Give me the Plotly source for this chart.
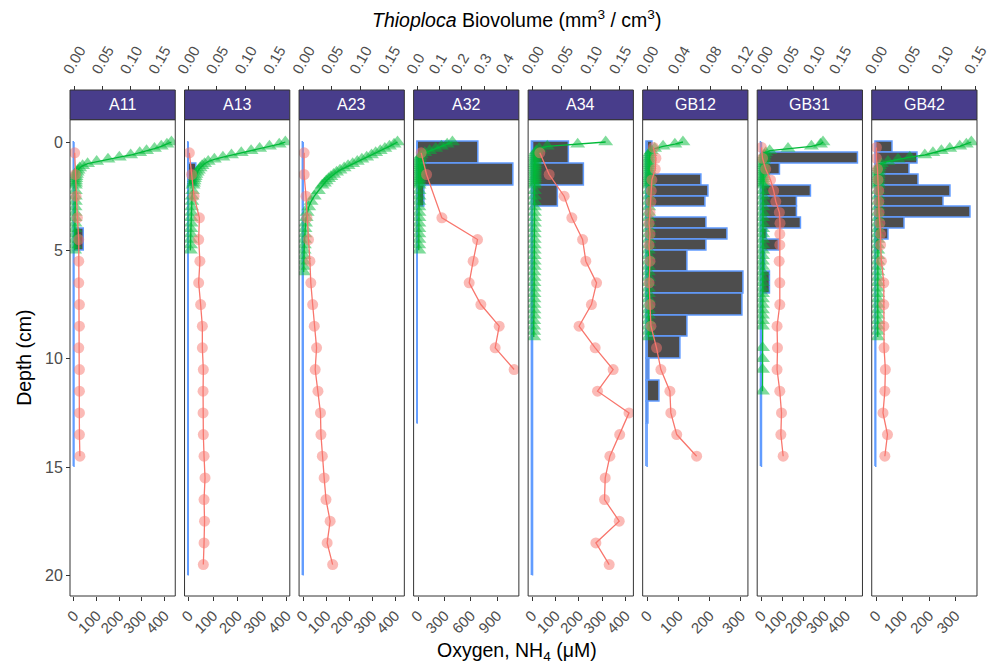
import plotly.graph_objects as go

# ---------------- data ----------------
panels = ["A11", "A13", "A23", "A32", "A34", "GB12", "GB31", "GB42"]

# oxygen depth grids (cm)
depth_fine = [0.0, 0.1, 0.2, 0.3, 0.4, 0.5, 0.6, 0.7, 0.8, 0.9, 1.0,
              1.1, 1.2, 1.3, 1.4, 1.5, 1.6, 1.7, 1.8, 1.9, 2.0]
depth_to5 = [2.25, 2.5, 2.75, 3.0, 3.25, 3.5, 3.75, 4.0, 4.25, 4.5, 4.75, 5.0]
depth_to6 = [2.25, 2.5, 2.75, 3.0, 3.25, 3.5, 3.75, 4.0, 4.25, 4.5, 4.75, 5.0,
             5.25, 5.5, 5.75, 6.0]
depth_to9 = [2.25, 2.5, 2.75, 3.0, 3.25, 3.5, 3.75, 4.0, 4.25, 4.5, 4.75, 5.0,
             5.25, 5.5, 5.75, 6.0, 6.25, 6.5, 6.75, 7.0, 7.25, 7.5, 7.75, 8.0,
             8.25, 8.5, 8.75, 9.0]
depth_gb31 = [2.25, 2.5, 2.75, 3.0, 3.25, 3.5, 3.75, 4.0, 4.25, 4.5, 4.75, 5.0,
              5.25, 5.5, 5.75, 6.0, 6.25, 6.5, 6.75, 7.0, 7.25, 7.5, 7.75, 8.0,
              8.25, 8.5, 9.5, 10.0, 10.5, 11.5]

# oxygen values (uM)
o2_A11 = [430, 410, 385, 355, 320, 290, 250, 200, 150, 100, 60, 38, 25, 18, 14, 11, 9, 8, 7, 7, 6,
          6, 6, 6, 5, 5, 5, 5, 4, 4, 4, 4, 3]
o2_A13 = [395, 370, 330, 290, 255, 215, 175, 140, 105, 80, 65, 55, 47, 40, 35, 30, 27, 24, 22, 20, 18,
          16, 14, 13, 12, 11, 10, 10, 9, 9, 8, 8, 7]
o2_A23 = [410, 395, 375, 355, 335, 315, 297, 276, 255, 235, 215, 195, 178, 160, 145, 132, 120, 110, 100, 92, 82,
          66, 48, 34, 24, 17, 13, 10, 8, 7, 6, 5, 4, 3, 3, 2, 2]
o2_A32 = [390, 330, 265, 200, 130, 75, 35, 20, 15, 13, 12, 12, 12, 11, 11, 11, 11, 10, 10, 10, 10,
          10, 10, 9, 9, 9, 9, 8, 8, 8, 8, 7, 7]
o2_A34 = [315, 195, 65, 30, 18, 14, 13, 12, 12, 12, 11, 11, 11, 11, 11, 11, 11, 10, 10, 10, 10,
          10, 10, 10, 10, 10, 10, 10, 9, 9, 9, 9, 9, 9, 9, 9, 8, 8, 8, 8, 8, 8, 8, 8, 8, 7, 7, 7, 7]
o2_GB12 = [114, 88, 50, 23, 12, 8, 6, 6, 5, 5, 5, 5, 5, 5, 5, 5, 4, 4, 4, 4, 4,
           4, 4, 4, 4, 4, 4, 4, 4, 4, 4, 4, 3, 3, 3, 3, 3, 3, 3, 3, 3, 3, 3, 3, 3, 3, 3, 3, 3]
o2_GB31 = [292, 280, 237, 126, 39, 20, 14, 11, 10, 9, 9, 8, 8, 8, 8, 8, 8, 7, 7, 7, 7,
           7, 7, 7, 7, 6, 6, 6, 6, 6, 6, 6, 6, 5, 5, 5, 5, 5, 5, 5, 5, 5, 5, 5, 5, 5, 5, 5, 5, 5, 5]
o2_GB42 = [361, 342, 317, 279, 247, 215, 184, 127, 82, 44, 19, 12, 9, 8, 7, 7, 6, 6, 6, 6, 6,
           6, 6, 6, 6, 6, 6, 5, 5, 5, 5, 5, 5, 5, 5, 5, 5, 5, 5, 5, 5, 5, 5, 5, 5, 5, 5, 5, 5]

# NH4 depth grids (cm)
nh4_depth_15 = [0.5, 1.5, 2.5, 3.5, 4.5, 5.5, 6.5, 7.5, 8.5, 9.5, 10.5, 11.5, 12.5, 13.5, 14.5]
nh4_depth_20 = [0.5, 1.5, 2.5, 3.5, 4.5, 5.5, 6.5, 7.5, 8.5, 9.5, 10.5, 11.5, 12.5, 13.5, 14.5,
                15.5, 16.5, 17.5, 18.5, 19.5]
nh4_depth_A32 = [0.5, 1.5, 3.5, 4.5, 5.5, 6.5, 7.5, 8.5, 9.5, 10.5]
nh4_depth_GB = [0.25, 0.75, 1.25, 1.75, 2.25, 2.75, 3.25, 3.75, 4.25, 4.75,
                5.5, 6.5, 7.5, 8.5, 9.5, 10.5, 11.5, 12.5, 13.5, 14.5]

# NH4 values (uM)
nh4_A11 = [3, 6, 9, 15, 21, 21, 21, 24, 24, 21, 24, 24, 24, 24, 26]
nh4_A13 = [3, 12, 22, 44, 41, 46, 41, 49, 56, 56, 60, 59, 59, 60, 63, 67, 63, 65, 63, 60]
nh4_A23 = [4, 4, 12, 16, 23, 29, 33, 41, 48, 58, 52, 64, 75, 77, 83, 91, 99, 117, 104, 128]
nh4_A32 = [34, 95, 270, 676, 626, 581, 714, 923, 877, 1093]
nh4_A34 = [33, 73, 137, 170, 216, 230, 276, 254, 201, 270, 347, 280, 415, 375, 333, 313, 310, 373, 273, 330]
nh4_GB12 = [19, 27, 25, 14, 12, 11, 8, 5, 8, 5, 8, 5, 8, 11, 29, 43, 72, 75, 94, 158]
nh4_GB31 = [0, 5, 20, 43, 58, 68, 85, 88, 87, 87, 84, 87, 87, 74, 76, 74, 87, 95, 92, 103]
nh4_GB42 = [0, 0, 4, 6, 9, 9, 10, 13, 16, 16, 19, 28, 28, 28, 29, 34, 32, 25, 42, 32]

# Thioploca biovolume layers: edges (cm) and values (mm3/cm3)
edges_15 = [0, 1, 2, 3, 4, 5, 6, 7, 8, 9, 10, 11, 12, 13, 14, 15]
edges_20 = [0, 1, 2, 3, 4, 5, 6, 7, 8, 9, 10, 11, 12, 13, 14, 15, 16, 17, 18, 19, 20]
edges_13 = [0, 1, 2, 3, 4, 5, 6, 7, 8, 9, 10, 11, 12, 13]
edges_GB = [0, 0.5, 1, 1.5, 2, 2.5, 3, 3.5, 4, 4.5, 5, 6, 7, 8, 9, 10, 11, 12, 13, 14, 15]

bio_A11 = [0, 0, 0, 0, 0.0176, 0, 0, 0, 0, 0, 0, 0, 0, 0, 0]
bio_A13 = [0, 0.0145, 0, 0, 0, 0, 0, 0, 0, 0, 0, 0, 0, 0, 0, 0, 0, 0, 0, 0]
bio_A23 = [0, 0, 0, 0, 0, 0, 0, 0, 0, 0, 0, 0, 0, 0, 0, 0, 0, 0, 0, 0]
bio_A32 = [0.277, 0.43, 0.031, 0, 0, 0, 0, 0, 0, 0, 0, 0, 0]
bio_A34 = [0.062, 0.089, 0.044, 0, 0, 0, 0, 0, 0, 0, 0, 0, 0, 0, 0, 0, 0, 0, 0, 0]
bio_GB12 = [0.007, 0, 0, 0.0695, 0.0788, 0.0746, 0, 0.0754, 0.102, 0.0758,
            0.052, 0.1233, 0.121, 0.051, 0.043, 0.003, 0.016, 0.0025, 0, 0]
bio_GB31 = [0, 0.185, 0.036, 0, 0.096, 0.068, 0.069, 0.077, 0.011, 0.033,
            0.008, 0.017, 0, 0, 0, 0, 0, 0, 0, 0]
bio_GB42 = [0.026, 0.063, 0.051, 0.065, 0.113, 0.102, 0.143, 0.044, 0.020, 0.006,
            0, 0, 0, 0, 0, 0, 0, 0, 0, 0]

# axis tick labels
ticks_conc_400 = [0, 100, 200, 300, 400]
ticks_conc_300 = [0, 100, 200, 300]
ticks_conc_A32 = [0, 300, 600, 900]
ticks_bio_15 = [0, 0.05, 0.10, 0.15]
ticks_bio_A32 = [0, 0.1, 0.2, 0.3, 0.4]
ticks_bio_GB12 = [0, 0.04, 0.08, 0.12]
ticks_depth = [0, 5, 10, 15, 20]

# ---------------- assembly ----------------
data = {
    "A11": (depth_fine + depth_to5, o2_A11, nh4_depth_15, nh4_A11, edges_15, bio_A11),
    "A13": (depth_fine + depth_to5, o2_A13, nh4_depth_20, nh4_A13, edges_20, bio_A13),
    "A23": (depth_fine + depth_to6, o2_A23, nh4_depth_20, nh4_A23, edges_20, bio_A23),
    "A32": (depth_fine + depth_to5, o2_A32, nh4_depth_A32, nh4_A32, edges_13, bio_A32),
    "A34": (depth_fine + depth_to9, o2_A34, nh4_depth_20, nh4_A34, edges_20, bio_A34),
    "GB12": (depth_fine + depth_to9, o2_GB12, nh4_depth_GB, nh4_GB12, edges_GB, bio_GB12),
    "GB31": (depth_fine + depth_gb31, o2_GB31, nh4_depth_GB, nh4_GB31, edges_GB, bio_GB31),
    "GB42": (depth_fine + depth_to9, o2_GB42, nh4_depth_GB, nh4_GB42, edges_GB, bio_GB42),
}
conc_ticks = {"A11": ticks_conc_400, "A13": ticks_conc_400, "A23": ticks_conc_400,
              "A32": ticks_conc_A32, "A34": ticks_conc_400, "GB12": ticks_conc_300,
              "GB31": ticks_conc_400, "GB42": ticks_conc_300}
bio_ticks = {"A11": ticks_bio_15, "A13": ticks_bio_15, "A23": ticks_bio_15,
             "A32": ticks_bio_A32, "A34": ticks_bio_15, "GB12": ticks_bio_GB12,
             "GB31": ticks_bio_15, "GB42": ticks_bio_15}
bio_fmt = {"A32": ".1f"}

conc_range = {"A11": [-17.6, 446.8], "A13": [-16.7, 413.1], "A23": [-18.1, 439.7],
              "A32": [-52.3, 1147], "A34": [-17.2, 433.7], "GB12": [-15.6, 323],
              "GB31": [-20.3, 479.2], "GB42": [-17.9, 382.5]}
bio_range = {"A11": [-0.00704, 0.1783], "A13": [-0.00652, 0.1776], "A23": [-0.00729, 0.1771],
             "A32": [-0.01606, 0.4551], "A34": [-0.0076, 0.1733], "GB12": [-0.00566, 0.1282],
             "GB31": [-0.0082, 0.1935], "GB42": [-0.00606, 0.1530]}

W, H = 990, 666
ML, MR, MT, MB = 70, 12.7, 90, 69.7
PW = W - ML - MR
PH = H - MT - MB
PANEL_W = 105.3
PANEL_STEP = 114.57
ydom_top = (596.3 - 119.7) / PH

GREEN = "#00BA38"
RED = "#F8766D"
BLUE = "#619CFF"
FAM = "Liberation Sans, Arial, sans-serif"
TICKFONT = dict(family=FAM, size=15, color="#4D4D4D")
TITLEFONT = dict(family=FAM, size=19.5, color="black")

fig = go.Figure()
layout = dict(
    width=W, height=H,
    autosize=False,
    margin=dict(l=ML, r=MR, t=MT, b=MB, pad=0, autoexpand=False),
    paper_bgcolor="white", plot_bgcolor="white",
    showlegend=False,
    bargap=0,
)
shapes = []
annotations = []

for i, name in enumerate(panels):
    k = i + 1
    bx = "x" if k == 1 else f"x{k}"
    ox = f"x{k + 8}"
    d0 = i * PANEL_STEP / PW
    d1 = min((i * PANEL_STEP + PANEL_W) / PW, 1.0)
    o2d, o2v, nhd, nhv, edges, bio = data[name]

    # top (biovolume) axis - base axis
    layout["xaxis" if k == 1 else f"xaxis{k}"] = dict(
        domain=[d0, d1], range=bio_range[name], anchor="free", position=1.0,
        side="top", tickmode="array", tickvals=bio_ticks[name],
        tickformat=bio_fmt.get(name, ".2f"), tickangle=-60, ticklabelshift=-9,
        ticklabelstandoff=1, automargin=False, ticklabeloverflow="allow",
        ticks="outside", ticklen=4, tickwidth=1, tickcolor="#333333",
        showgrid=False, zeroline=False, showline=False, tickfont=TICKFONT,
    )
    # bottom (concentration) axis - overlaying
    layout[f"xaxis{k + 8}"] = dict(
        domain=[d0, d1], range=conc_range[name], anchor="y", overlaying=bx,
        side="bottom", tickmode="array", tickvals=conc_ticks[name], tickangle=-45,
        automargin=False, ticklabeloverflow="allow",
        ticks="outside", ticklen=4, tickwidth=1, tickcolor="#333333",
        showgrid=False, zeroline=False, showline=False, tickfont=TICKFONT,
    )

    centers = [(a + b) / 2 for a, b in zip(edges[:-1], edges[1:])]
    heights = [b - a for a, b in zip(edges[:-1], edges[1:])]
    fig.add_trace(go.Bar(
        y=centers, x=bio, width=heights, orientation="h", base=0,
        xaxis=bx, yaxis="y",
        marker=dict(color="#4D4D4D", line=dict(color=BLUE, width=1.5)),
        hoverinfo="skip",
    ))
    fig.add_trace(go.Scatter(
        x=[0, 0], y=[edges[0], edges[-1]], mode="lines",
        xaxis=bx, yaxis="y", line=dict(color=BLUE, width=1.5), hoverinfo="skip",
    ))
    fig.add_trace(go.Scatter(
        x=o2v, y=o2d, mode="lines+markers", xaxis=ox, yaxis="y",
        line=dict(color=GREEN, width=1.3),
        marker=dict(symbol="triangle-up", size=13, color="rgba(0,186,56,0.5)"),
    ))
    fig.add_trace(go.Scatter(
        x=nhv, y=nhd, mode="lines+markers", xaxis=ox, yaxis="y",
        line=dict(color=RED, width=1.3),
        marker=dict(symbol="circle", size=11, color="rgba(248,118,109,0.5)"),
    ))

    dom_ref = f"{bx} domain"
    shapes.append(dict(type="rect", xref=dom_ref, yref="y domain", x0=0, x1=1, y0=0, y1=1,
                       line=dict(color="#333333", width=1), fillcolor="rgba(0,0,0,0)",
                       layer="above"))
    shapes.append(dict(type="rect", xref=dom_ref, yref="paper", x0=0, x1=1, y0=ydom_top, y1=1,
                       line=dict(color="#333333", width=1), fillcolor="#483D8B", layer="above"))
    annotations.append(dict(text=name, xref=dom_ref, yref="paper", x=0.5, y=(ydom_top + 1) / 2,
                            showarrow=False, xanchor="center", yanchor="middle",
                            font=dict(family=FAM, size=16, color="white")))

layout["yaxis"] = dict(
    domain=[0, ydom_top], range=[20.95, -1.03], anchor="free", position=0,
    tickmode="array", tickvals=ticks_depth, ticks="outside", ticklen=4, tickwidth=1,
    tickcolor="#333333", showgrid=False, zeroline=False, showline=False, automargin=False,
    tickfont=dict(family=FAM, size=16, color="#4D4D4D"),
)

annotations.append(dict(text="Depth (cm)", xref="paper", yref="paper",
                        x=(24 - ML) / PW, y=(596.3 - 358) / PH, textangle=-90,
                        showarrow=False, xanchor="center", yanchor="middle", font=TITLEFONT))
annotations.append(dict(text="Oxygen, NH<sub>4</sub> (μM)", xref="paper", yref="paper",
                        x=(517 - ML) / PW, y=(596.3 - 652) / PH,
                        showarrow=False, xanchor="center", yanchor="middle", font=TITLEFONT))
annotations.append(dict(text="<i>Thioploca</i> Biovolume (mm<sup>3</sup> / cm<sup>3</sup>)",
                        xref="paper", yref="paper",
                        x=(517 - ML) / PW, y=(596.3 - 19) / PH,
                        showarrow=False, xanchor="center", yanchor="middle", font=TITLEFONT))

layout["shapes"] = shapes
layout["annotations"] = annotations
fig.update_layout(**layout)
fig.write_html("out.html")
